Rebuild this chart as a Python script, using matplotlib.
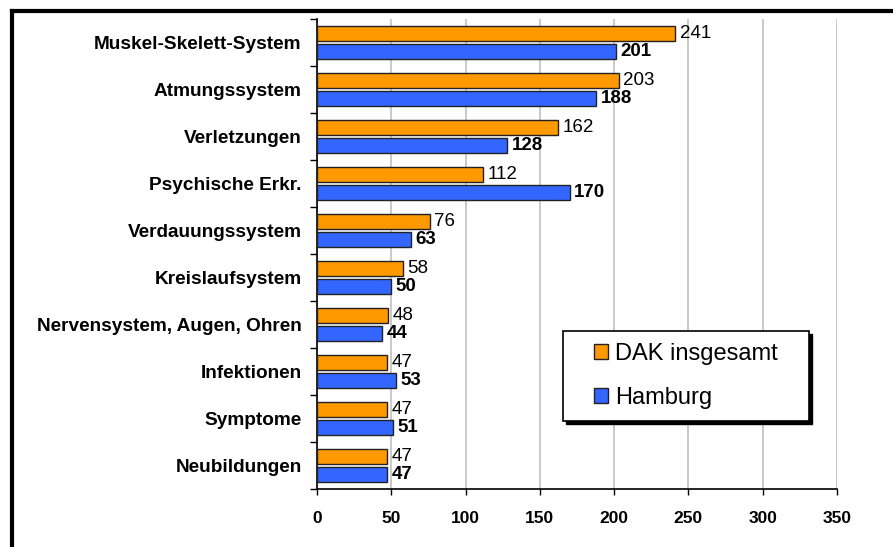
import numpy as np
import matplotlib.pyplot as plt
from matplotlib.patches import Rectangle, Patch
from matplotlib.lines import Line2D

categories = ['Muskel-Skelett-System', 'Atmungssystem', 'Verletzungen',
              'Psychische Erkr.', 'Verdauungssystem', 'Kreislaufsystem',
              'Nervensystem, Augen, Ohren', 'Infektionen', 'Symptome',
              'Neubildungen']
dak = [241, 203, 162, 112, 76, 58, 48, 47, 47, 47]
hamburg = [201, 188, 128, 170, 63, 50, 44, 53, 51, 47]
xticks = [0, 50, 100, 150, 200, 250, 300, 350]

plt.rcParams['font.family'] = ['Liberation Sans', 'DejaVu Sans']

W, H = 893, 547
fig = plt.figure(figsize=(W / 100, H / 100), dpi=100)
ax = fig.add_axes([317 / W, (H - 489) / H, (837 - 317) / W, (489 - 19) / H])

orange = '#FF9900'
blue = '#3366FF'
y = np.arange(len(categories))
bh = 0.31
off = 0.195
ax.barh(y - off, dak, height=bh, color=orange, edgecolor='#222222', linewidth=1, zorder=3)
ax.barh(y + off, hamburg, height=bh, color=blue, edgecolor='#222222', linewidth=1, zorder=3)

for i in range(len(categories)):
    ax.text(dak[i] + 3, y[i] - off, str(dak[i]), va='center', ha='left',
            fontsize=13.5)
    ax.text(hamburg[i] + 3, y[i] + off, str(hamburg[i]), va='center', ha='left',
            fontsize=13.5, fontweight='bold')

ax.set_xlim(0, 350)
ax.set_ylim(len(categories) - 0.5, -0.5)
ax.set_xticks(xticks)
ax.set_xticklabels([str(v) for v in xticks], fontsize=12.5, fontweight='bold')
ax.tick_params(axis='x', direction='out', length=4, width=1, pad=12)

ax.set_yticks(np.arange(-0.5, len(categories)), labels=[])
ax.set_yticks(y, labels=categories, minor=True)
ax.tick_params(axis='y', which='major', direction='out', length=5, width=1)
ax.tick_params(axis='y', which='minor', length=0, pad=11)
for lab in ax.get_yticklabels(minor=True):
    lab.set_fontsize(13.7)
    lab.set_fontweight('bold')

ax.xaxis.grid(True, color='#c0c0c0', linewidth=1.2, zorder=0)
ax.set_axisbelow(True)
ax.spines['top'].set_visible(False)
ax.spines['right'].set_visible(False)
ax.spines['left'].set_linewidth(1.2)
ax.spines['bottom'].set_linewidth(1.2)

# outer frame (only top and left edges are visible)
fig.add_artist(Line2D([12 / W, 1], [(H - 11) / H, (H - 11) / H], color='black', linewidth=3,
                      transform=fig.transFigure))
fig.add_artist(Line2D([12 / W, 12 / W], [(H - 11) / H, 0], color='black', linewidth=3,
                      transform=fig.transFigure))

# legend box with shadow
bx0, by0, bx1, by1 = 563, 331, 809, 421
fig.add_artist(Rectangle(((bx0 + 3) / W, (H - by1 - 3) / H), (bx1 - bx0) / W, (by1 - by0) / H,
                         transform=fig.transFigure, facecolor='black', edgecolor='black',
                         zorder=5))
fig.add_artist(Rectangle((bx0 / W, (H - by1) / H), (bx1 - bx0) / W, (by1 - by0) / H,
                         transform=fig.transFigure, facecolor='white', edgecolor='black',
                         linewidth=1.2, zorder=6))
handles = [Patch(facecolor=orange, edgecolor='#222222', label='DAK insgesamt'),
           Patch(facecolor=blue, edgecolor='#222222', label='Hamburg')]
leg = fig.legend(handles=handles, loc='center',
                 bbox_to_anchor=((bx0 + bx1) / 2 / W, (H - (by0 + by1) / 2) / H),
                 frameon=False, fontsize=17, handlelength=0.6, handleheight=0.6,
                 handletextpad=0.3, labelspacing=0.95)
leg.set_zorder(7)

plt.savefig('out.png', dpi=100)
